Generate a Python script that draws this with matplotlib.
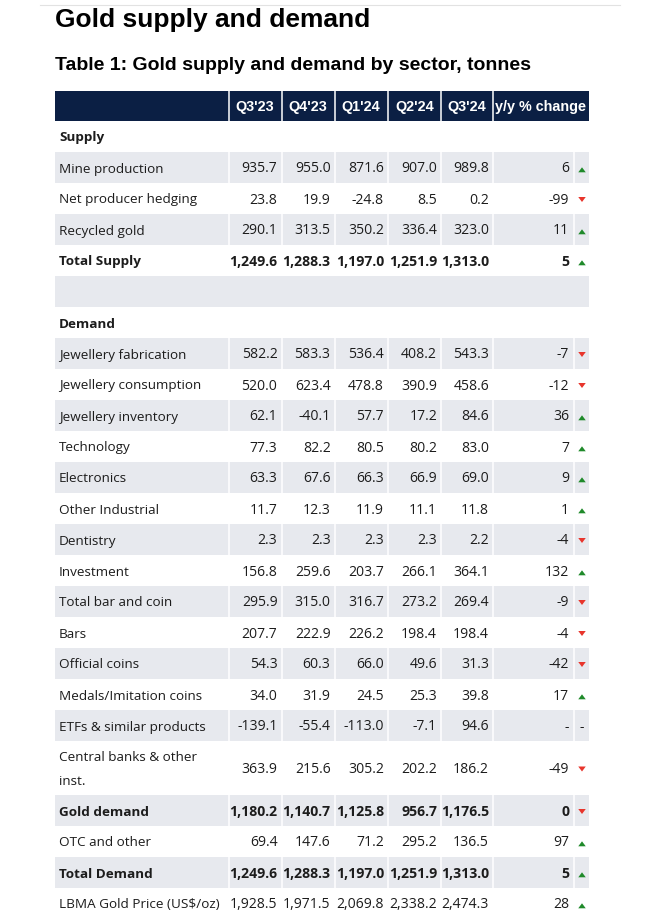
import matplotlib
matplotlib.use("Agg")
import matplotlib.pyplot as plt
from matplotlib.patches import Polygon, Rectangle

# table content
quarters = ["Q3'23", "Q4'23", "Q1'24", "Q2'24", "Q3'24"]
row_labels = [
    "Supply", "Mine production", "Net producer hedging", "Recycled gold", "Total Supply",
    "", "Demand", "Jewellery fabrication", "Jewellery consumption", "Jewellery inventory",
    "Technology", "Electronics", "Other Industrial", "Dentistry", "Investment",
    "Total bar and coin", "Bars", "Official coins", "Medals/Imitation coins",
    "ETFs & similar products", "Central banks & other\ninst.", "Gold demand",
    "OTC and other", "Total Demand", "LBMA Gold Price (US$/oz)",
]
q3_23 = [None, 935.7, 23.8, 290.1, 1249.6, None, None, 582.2, 520.0, 62.1, 77.3, 63.3, 11.7, 2.3,
         156.8, 295.9, 207.7, 54.3, 34.0, -139.1, 363.9, 1180.2, 69.4, 1249.6, 1928.5]
q4_23 = [None, 955.0, 19.9, 313.5, 1288.3, None, None, 583.3, 623.4, -40.1, 82.2, 67.6, 12.3, 2.3,
         259.6, 315.0, 222.9, 60.3, 31.9, -55.4, 215.6, 1140.7, 147.6, 1288.3, 1971.5]
q1_24 = [None, 871.6, -24.8, 350.2, 1197.0, None, None, 536.4, 478.8, 57.7, 80.5, 66.3, 11.9, 2.3,
         203.7, 316.7, 226.2, 66.0, 24.5, -113.0, 305.2, 1125.8, 71.2, 1197.0, 2069.8]
q2_24 = [None, 907.0, 8.5, 336.4, 1251.9, None, None, 408.2, 390.9, 17.2, 80.2, 66.9, 11.1, 2.3,
         266.1, 273.2, 198.4, 49.6, 25.3, -7.1, 202.2, 956.7, 295.2, 1251.9, 2338.2]
q3_24 = [None, 989.8, 0.2, 323.0, 1313.0, None, None, 543.3, 458.6, 84.6, 83.0, 69.0, 11.8, 2.2,
         364.1, 269.4, 198.4, 31.3, 39.8, 94.6, 186.2, 1176.5, 136.5, 1313.0, 2474.3]
yoy = ["", "6", "-99", "11", "5", "", "", "-7", "-12", "36", "7", "9", "1", "-4", "132",
       "-9", "-4", "-42", "17", "-", "-49", "0", "97", "5", "28"]
trend = ["", "up", "down", "up", "up", "", "", "down", "down", "up", "up", "up", "up", "down", "up",
         "down", "down", "down", "up", "-", "down", "down", "up", "up", "up"]
bold_rows = ["Supply", "Total Supply", "Demand", "Gold demand", "Total Demand"]

NAVY = "#0b1f44"
GREY = "#e7e9ee"
INK = "#1c1c1c"
UP = "#1f8a2a"
DOWN = "#e8352c"

col_edges = [55, 228.5, 281.5, 334.5, 388, 441, 493, 573.5, 588.5]
header_top, header_h = 91, 30
row_h = 31
body_font = ["Open Sans", "DejaVu Sans"]
head_font = ["Liberation Sans", "DejaVu Sans"]


def row_heights():
    return [54 if "\n" in lab else row_h for lab in row_labels]


def arrow(ax, x, y, up, w=7.5, h=5):
    # little triangle, y axis points down
    if up:
        pts = [(x - w / 2, y + h / 2), (x + w / 2, y + h / 2), (x, y - h / 2)]
        color = UP
    else:
        pts = [(x - w / 2, y - h / 2), (x + w / 2, y - h / 2), (x, y + h / 2)]
        color = DOWN
    ax.add_patch(Polygon(pts, closed=True, color=color, lw=0))


def draw_header(ax):
    ax.add_patch(Rectangle((col_edges[0], header_top), col_edges[-1] - col_edges[0], header_h,
                           color=NAVY, lw=0))
    ymid = header_top + header_h / 2
    heads = quarters + ["y/y % change"]
    for i, h in enumerate(heads):
        x0 = col_edges[i + 1]
        x1 = col_edges[i + 2] if i < 5 else col_edges[-1]
        ax.plot([x0, x0], [header_top, header_top + header_h], color="white", lw=1.1)
        ax.text((x0 + x1) / 2, ymid + 5.3, h, ha="center", va="baseline", color="white",
                fontsize=10.4, fontweight="bold", family=head_font)


def draw_body(ax):
    cols = [q3_23, q4_23, q1_24, q2_24, q3_24]
    y = header_top + header_h
    for i, (lab, h) in enumerate(zip(row_labels, row_heights())):
        if i % 2 == 1:
            ax.add_patch(Rectangle((col_edges[0], y), col_edges[-1] - col_edges[0], h,
                                   color=GREY, lw=0))
            if lab:
                for x in col_edges[1:-1]:
                    ax.plot([x, x], [y, y + h], color="white", lw=1.1)
        ymid = y + h / 2
        weight = "bold" if lab in bold_rows else "normal"
        lines = lab.split("\n")
        for k, line in enumerate(lines):
            off = (k - (len(lines) - 1) / 2) * 24
            ax.text(59, ymid + off + 5, line, ha="left", va="baseline", color=INK,
                    fontsize=9.7, fontweight=weight, family=body_font)
        for j, col in enumerate(cols):
            if col[i] is None:
                continue
            ax.text(col_edges[j + 2] - 4, ymid + 5, f"{col[i]:,.1f}", ha="right", va="baseline",
                    color=INK, fontsize=10.1, fontweight=weight, family=body_font)
        if yoy[i]:
            ax.text(569, ymid + 5, yoy[i], ha="right", va="baseline", color=INK,
                    fontsize=10.1, fontweight=weight, family=body_font)
        if trend[i] == "up":
            arrow(ax, 582, ymid + 2.3, True)
        elif trend[i] == "down":
            arrow(ax, 582, ymid + 1, False)
        elif trend[i] == "-":
            ax.text(582, ymid + 5, "-", ha="center", va="baseline", color=INK,
                    fontsize=10.1, family=body_font)
        y += h


def main():
    fig = plt.figure(figsize=(6.59, 9.10), dpi=100)
    ax = fig.add_axes([0, 0, 1, 1])
    ax.set_xlim(0, 659)
    ax.set_ylim(910, 0)
    ax.axis("off")

    ax.plot([40, 620], [4.5, 4.5], color="#e2e2e2", lw=0.8)
    ax.text(55, 26.7, "Gold supply and demand", ha="left", va="baseline", color="black",
            fontsize=19, fontweight="bold", family=head_font)
    ax.text(55, 70, "Table 1: Gold supply and demand by sector, tonnes", ha="left", va="baseline",
            color="black", fontsize=14, fontweight="bold", family=head_font)

    draw_header(ax)
    draw_body(ax)
    fig.savefig("out.png", dpi=100, facecolor="white")


if __name__ == "__main__":
    main()
